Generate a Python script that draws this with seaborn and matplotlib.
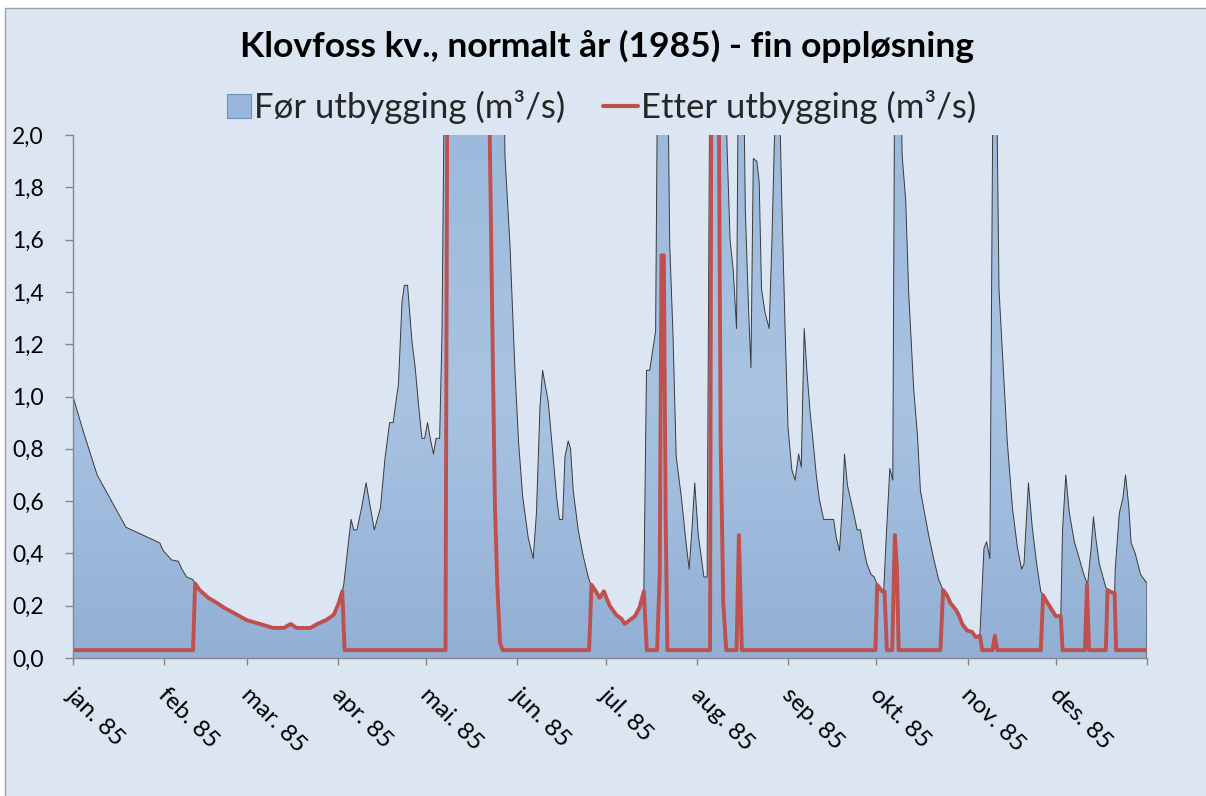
import numpy as np
import pandas as pd
import seaborn as sns
import matplotlib.pyplot as plt
from matplotlib.patches import Rectangle, PathPatch, Patch
from matplotlib.lines import Line2D
from matplotlib.legend_handler import HandlerPatch
from matplotlib.colors import LinearSegmentedColormap
import matplotlib.dates as mdates
import matplotlib.transforms as mtransforms

# Før utbygging: (dag i året, m3/s) lest av figuren
for_day = [0, 3.4, 8.2, 18, 29.5, 30.7, 33.5, 35.8, 37, 38.6, 40.7, 41.5, 43, 46, 49, 51.7,
           55, 59, 63.6, 68, 71.6, 74, 76, 80.7, 83, 86, 88.6, 90.3, 91.5, 92, 93, 94.5,
           95.4, 96.5, 98, 99.6, 101, 102.4, 104.5, 106, 107.6, 108.8, 110, 110.6, 111.8,
           112.6, 113.7, 115.2, 116.3, 117.5, 118.6, 119.5, 120.5, 121.4, 122.5, 123.4,
           124.6, 125.4, 126.5, 131, 137, 142, 146.3, 146.8, 148.5, 150.2, 151.4, 152.8,
           154.7, 156.4, 157.5, 158.7, 159.6, 161.5, 162.7, 164.4, 165.3, 166.4, 167.2,
           168.3, 169.1, 170, 171.7, 173.4, 175.1, 176, 177.7, 179, 180.4, 182.4, 184.6,
           186.4, 187.5, 189.2, 191, 192.6, 194, 194.9, 196, 198, 198.8, 200.5, 202,
           202.8, 203.9, 205, 206.8, 208.3, 209.4, 210.4, 211.3, 212.5, 213.6, 214.4,
           215.5, 216.5, 219, 221.5, 222.3, 223.3, 224.4, 225.5, 226.2, 227.5, 228.5,
           229.6, 230.4, 231.2, 232.4, 233.2, 234, 235.2, 236.6, 237.5, 238.3, 239.2,
           240, 240.9, 242, 243, 244.3, 245.4, 246.6, 247.5, 248.5, 249.4, 250.5, 251.5,
           252.6, 253.6, 255.1, 258.5, 259.4, 260.5, 261.6, 262.2, 263.2, 265, 266.5,
           267.6, 268.7, 269.8, 271.2, 272.3, 273.3, 275.5, 276.5, 277.6, 278.6, 279.3,
           280.5, 281.5, 281.8, 283, 284, 285.7, 287, 288, 289.4, 290.8, 292.5, 294.2,
           295.7, 297, 298.2, 300, 301, 302.2, 303.9, 305.5, 306.8, 308.2, 309.6, 310.5,
           311.6, 312.7, 313.3, 313.9, 314.7, 316.2, 317.5, 319.3, 321, 322.4, 323.2,
           324.7, 326, 327.5, 328.9, 329.7, 331.2, 332.9, 334, 335.7, 336.3, 337.4,
           338.6, 340.3, 342, 343.5, 344.8, 346, 346.8, 347.7, 348.8, 351, 352.5, 354,
           354.2, 355.6, 356.8, 357.7, 358.8, 359.6, 361, 362.8, 364.7, 365]
for_val = [1.00, 0.87, 0.70, 0.50, 0.44, 0.41, 0.375, 0.37, 0.34, 0.31, 0.30, 0.285, 0.26,
           0.23, 0.21, 0.19, 0.17, 0.145, 0.13, 0.115, 0.115, 0.13, 0.115, 0.115, 0.13,
           0.145, 0.165, 0.21, 0.255, 0.28, 0.38, 0.53, 0.49, 0.49, 0.57, 0.67, 0.58, 0.49,
           0.575, 0.76, 0.90, 0.90, 1.00, 1.045, 1.36, 1.425, 1.425, 1.21, 1.11, 0.96,
           0.84, 0.84, 0.90, 0.84, 0.78, 0.84, 0.84, 1.24, 2.6, 4.5, 5.8, 4.0, 2.4, 1.92,
           1.58, 1.10, 0.83, 0.62, 0.46, 0.38, 0.555, 0.96, 1.10, 0.98, 0.83, 0.61, 0.53,
           0.53, 0.77, 0.83, 0.80, 0.64, 0.49, 0.39, 0.31, 0.28, 0.255, 0.23, 0.255, 0.20,
           0.165, 0.15, 0.13, 0.145, 0.16, 0.195, 0.255, 1.10, 1.10, 1.25, 2.5, 3.5, 2.4,
           1.58, 1.24, 0.77, 0.61, 0.445, 0.34, 0.50, 0.67, 0.47, 0.38, 0.31, 0.31, 2.5,
           4.0, 2.3, 1.95, 1.60, 1.48, 1.26, 2.4, 2.6, 1.71, 1.33, 1.11, 1.91, 1.90, 1.82,
           1.41, 1.32, 1.26, 1.58, 1.95, 2.3, 2.2, 1.74, 1.26, 0.88, 0.72, 0.68, 0.78,
           0.73, 1.26, 1.10, 0.94, 0.83, 0.70, 0.61, 0.53, 0.53, 0.46, 0.41, 0.61, 0.78,
           0.66, 0.57, 0.49, 0.49, 0.42, 0.36, 0.32, 0.31, 0.28, 0.255, 0.49, 0.725, 0.68,
           2.4, 3.0, 2.1, 1.92, 1.75, 1.40, 1.03, 0.85, 0.64, 0.555, 0.47, 0.38, 0.30,
           0.26, 0.24, 0.21, 0.185, 0.165, 0.13, 0.105, 0.10, 0.08, 0.085, 0.42, 0.445,
           0.38, 2.3, 2.6, 2.2, 1.41, 1.10, 0.83, 0.57, 0.42, 0.34, 0.36, 0.67, 0.50, 0.36,
           0.255, 0.24, 0.21, 0.18, 0.16, 0.16, 0.49, 0.70, 0.555, 0.445, 0.38, 0.32, 0.28,
           0.42, 0.54, 0.45, 0.36, 0.27, 0.25, 0.25, 0.34, 0.555, 0.61, 0.70, 0.58, 0.44,
           0.40, 0.32, 0.29, 0.29]

# Etter utbygging
etter_day = [0, 40.8, 41.5, 43, 46, 49, 51.7, 55, 59, 63.6, 68, 71.6, 74, 76, 80.7, 83, 86,
             88.6, 90.3, 91.5, 92.3, 126.6, 127.3, 134, 141.5, 142.9, 143.4, 144.2, 145.1,
             146, 175.4, 176.2, 177.7, 179, 180.4, 182.4, 184.6, 186.4, 187.5, 189.2, 191,
             192.6, 194, 195, 198.5, 199.4, 200, 200.8, 201.4, 202, 216.5, 217, 219.3,
             220.1, 221, 222, 225.5, 226.3, 227.3, 272.7, 273.3, 275, 275.8, 276.6, 278.4,
             279.3, 280, 280.6, 294.8, 295.7, 297, 298.2, 300, 301, 302.2, 303.9, 305.5,
             306.8, 308.2, 309, 312.5, 313.3, 314.1, 328.9, 329.7, 331.2, 332.9, 334,
             335.7, 336.3, 343.9, 344.6, 345.3, 351, 351.6, 353, 354, 354.5, 365]
etter_val = [0.03, 0.03, 0.285, 0.26, 0.23, 0.21, 0.19, 0.17, 0.145, 0.13, 0.115, 0.115,
             0.13, 0.115, 0.115, 0.13, 0.145, 0.165, 0.21, 0.255, 0.03, 0.03, 2.6, 3.0, 2.1,
             0.96, 0.58, 0.28, 0.06, 0.03, 0.03, 0.28, 0.255, 0.23, 0.255, 0.20, 0.165,
             0.15, 0.13, 0.145, 0.16, 0.195, 0.255, 0.03, 0.03, 0.32, 1.54, 1.54, 0.55,
             0.03, 0.03, 2.5, 2.5, 0.83, 0.21, 0.03, 0.03, 0.47, 0.03, 0.03, 0.28, 0.255,
             0.255, 0.03, 0.03, 0.47, 0.35, 0.03, 0.03, 0.26, 0.24, 0.21, 0.185, 0.165,
             0.13, 0.105, 0.10, 0.08, 0.085, 0.03, 0.03, 0.085, 0.03, 0.03, 0.24, 0.21,
             0.18, 0.16, 0.16, 0.03, 0.03, 0.28, 0.03, 0.03, 0.26, 0.25, 0.25, 0.03, 0.03]

month_labels = ['jan. 85', 'feb. 85', 'mar. 85', 'apr. 85', 'mai. 85', 'jun. 85',
                'jul. 85', 'aug. 85', 'sep. 85', 'okt. 85', 'nov. 85', 'des. 85']
y_ticks = [0.0, 0.2, 0.4, 0.6, 0.8, 1.0, 1.2, 1.4, 1.6, 1.8, 2.0]

start = pd.Timestamp('1985-01-01')
for_df = pd.DataFrame({'dato': start + pd.to_timedelta(for_day, unit='D'), 'q': for_val})
etter_df = pd.DataFrame({'dato': start + pd.to_timedelta(etter_day, unit='D'), 'q': etter_val})

sns.set_theme(style='white')
plt.rcParams['font.family'] = ['Lato', 'DejaVu Sans']

W, H = 1206, 796
fig = plt.figure(figsize=(W / 100, H / 100), dpi=100, facecolor='white')
fig.patches.append(Rectangle((5 / W, -0.01), 1.0, (H - 8) / H + 0.01, transform=fig.transFigure,
                             facecolor='#dce6f2', edgecolor='#a0a0a0', lw=1.0, zorder=0))

rect = [73 / W, 1 - 658 / H, (1147 - 73) / W, (658 - 135) / H]

# gradient bak plottet
bg_ax = fig.add_axes(rect, zorder=0)
bg_cmap = LinearSegmentedColormap.from_list('bg', [(0, '#d6e2f0'), (0.5, '#ffffff'), (1, '#dbe5f1')])
bg_ax.imshow(np.linspace(0, 1, 256).reshape(-1, 1), aspect='auto', cmap=bg_cmap,
             origin='lower', extent=[0, 1, 0, 1])
bg_ax.axis('off')

ax = fig.add_axes(rect, zorder=1)
ax.patch.set_alpha(0)

x0, x1 = start, pd.Timestamp('1986-01-01')

# flate for "Før utbygging" med gradient
fill = ax.fill_between(for_df['dato'], for_df['q'], 0, facecolor='none', edgecolor='none')
clip = PathPatch(fill.get_paths()[0], transform=ax.transData, facecolor='none', edgecolor='none')
ax.add_patch(clip)
area_cmap = LinearSegmentedColormap.from_list('area', [(0, '#92b0d5'), (0.5, '#a9c3e2'), (1, '#9dbadc')])
im = ax.imshow(np.linspace(0, 1, 256).reshape(-1, 1), aspect='auto', cmap=area_cmap, origin='lower',
               extent=[mdates.date2num(x0), mdates.date2num(x1), 0, 2.0], zorder=1)
im.set_clip_path(clip)

edge_df = pd.concat([pd.DataFrame({'dato': [for_df['dato'].iloc[0]], 'q': [0.0]}), for_df,
                     pd.DataFrame({'dato': [for_df['dato'].iloc[-1]], 'q': [0.0]})])
ax.plot(edge_df['dato'], edge_df['q'], color='#3a3a3a', lw=0.7, zorder=2)

sns.lineplot(data=etter_df, x='dato', y='q', color='#c0504d', lw=2.8, ax=ax, zorder=3,
             estimator=None, sort=False)

ax.set_xlim(x0, x1)
ax.set_ylim(0, 2.0)
ax.set_xlabel('')
ax.set_ylabel('')

for s in ['top', 'right']:
    ax.spines[s].set_visible(False)
for s in ['left', 'bottom']:
    ax.spines[s].set_color('#868686')
    ax.spines[s].set_linewidth(1.0)
    ax.spines[s].set_zorder(4)

ax.set_yticks(y_ticks)
ax.set_yticklabels([f'{v:.1f}'.replace('.', ',') for v in y_ticks])
ticks = pd.date_range('1985-01-01', '1986-01-01', freq='MS')
ax.set_xticks(ticks)
ax.set_xticklabels(month_labels + [''])
ax.tick_params(axis='y', length=6, width=1, color='#868686', labelsize=16.5, labelcolor='black', pad=15, left=True)
ax.tick_params(axis='x', length=5, width=1, color='#868686', labelsize=17.5, labelcolor='black', pad=14, bottom=True)
shift = mtransforms.ScaledTranslation(5 / 100, 0, fig.dpi_scale_trans)
for lab in ax.get_xticklabels():
    lab.set_rotation(-45)
    lab.set_ha('left')
    lab.set_va('top')
    lab.set_rotation_mode('anchor')
    lab.set_transform(lab.get_transform() + shift)

fig.text(607 / W, 1 - 57 / H, 'Klovfoss kv., normalt år (1985) - fin oppløsning', ha='center', va='baseline',
         fontsize=25.5, fontweight='bold', color='black')


def square(legend, orig_handle, xdescent, ydescent, width, height, fontsize):
    s = height
    return Rectangle((width - s, -ydescent), s, s)


handles = [Patch(facecolor='#9ab7db', edgecolor='#6d8fbf', lw=0.8),
           Line2D([0], [0], color='#c0504d', lw=3)]
labels = ['Før utbygging (m³/s)', 'Etter utbygging (m³/s)']
fig.legend(handles, labels, loc='center', bbox_to_anchor=(596 / W, 1 - 107 / H), ncol=2, frameon=False,
           fontsize=25, handlelength=1.0, handletextpad=0.08, columnspacing=1.1,
           handler_map={Patch: HandlerPatch(patch_func=square)})

fig.savefig('out.png', dpi=100, facecolor=fig.get_facecolor())
